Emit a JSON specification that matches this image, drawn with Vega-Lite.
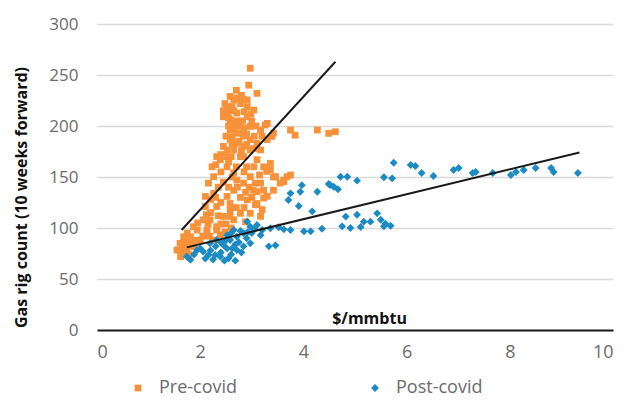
{
  "$schema": "https://vega.github.io/schema/vega-lite/v6.json",
  "width": 516,
  "height": 306,
  "autosize": {"type": "none"},
  "padding": {"left": 97, "top": 24, "right": 15, "bottom": 75},
  "background": "white",
  "config": {
    "view": {"stroke": null},
    "font": "Open Sans"
  },
  "datasets": {
    "pts": [
      {"s":"Pre-covid","x":2.97,"y":256.6},{"s":"Pre-covid","x":2.94,"y":240},{"s":"Pre-covid","x":3.10,"y":232},{"s":"Pre-covid","x":2.58,"y":229},{"s":"Pre-covid","x":2.71,"y":227.5},{"s":"Pre-covid","x":2.91,"y":225.5},{"s":"Pre-covid","x":2.65,"y":225.5},{"s":"Pre-covid","x":2.78,"y":222},{"s":"Pre-covid","x":2.52,"y":219},{"s":"Pre-covid","x":2.91,"y":219},{"s":"Pre-covid","x":3.04,"y":215.7},{"s":"Pre-covid","x":2.52,"y":212.7},{"s":"Pre-covid","x":2.71,"y":212.7},{"s":"Pre-covid","x":2.45,"y":209},{"s":"Pre-covid","x":2.91,"y":209},{"s":"Pre-covid","x":2.58,"y":206},{"s":"Pre-covid","x":2.78,"y":202.6},{"s":"Pre-covid","x":3.30,"y":202.6},{"s":"Pre-covid","x":3.26,"y":201},{"s":"Pre-covid","x":2.65,"y":199.6},{"s":"Pre-covid","x":2.97,"y":199.6},{"s":"Pre-covid","x":2.58,"y":196},{"s":"Pre-covid","x":3.17,"y":196},{"s":"Pre-covid","x":3.75,"y":196},{"s":"Pre-covid","x":4.27,"y":196},{"s":"Pre-covid","x":2.71,"y":193},{"s":"Pre-covid","x":2.78,"y":193},{"s":"Pre-covid","x":3.42,"y":193},{"s":"Pre-covid","x":4.49,"y":192.8},{"s":"Pre-covid","x":4.62,"y":194.4},{"s":"Pre-covid","x":3.84,"y":191},{"s":"Pre-covid","x":2.84,"y":190},{"s":"Pre-covid","x":3.39,"y":189.8},{"s":"Pre-covid","x":2.58,"y":186.6},{"s":"Pre-covid","x":2.97,"y":186.6},{"s":"Pre-covid","x":3.30,"y":186.6},{"s":"Pre-covid","x":2.71,"y":183},{"s":"Pre-covid","x":3.10,"y":183},{"s":"Pre-covid","x":2.84,"y":180},{"s":"Pre-covid","x":2.52,"y":176.5},{"s":"Pre-covid","x":2.65,"y":176.5},{"s":"Pre-covid","x":2.97,"y":176.5},{"s":"Pre-covid","x":3.17,"y":176.5},{"s":"Pre-covid","x":2.39,"y":167},{"s":"Pre-covid","x":2.78,"y":170},{"s":"Pre-covid","x":2.84,"y":170},{"s":"Pre-covid","x":2.32,"y":170},{"s":"Pre-covid","x":3.10,"y":167},{"s":"Pre-covid","x":2.23,"y":160},{"s":"Pre-covid","x":2.52,"y":160},{"s":"Pre-covid","x":3.04,"y":160},{"s":"Pre-covid","x":3.23,"y":160},{"s":"Pre-covid","x":3.36,"y":163.4},{"s":"Pre-covid","x":3.36,"y":157},{"s":"Pre-covid","x":3.29,"y":155.5},{"s":"Pre-covid","x":2.65,"y":154},{"s":"Pre-covid","x":2.26,"y":150.3},{"s":"Pre-covid","x":2.97,"y":150.3},{"s":"Pre-covid","x":3.42,"y":150},{"s":"Pre-covid","x":3.46,"y":150.3},{"s":"Pre-covid","x":3.68,"y":150.3},{"s":"Pre-covid","x":3.75,"y":152},{"s":"Pre-covid","x":2.71,"y":147},{"s":"Pre-covid","x":3.62,"y":147},{"s":"Pre-covid","x":3.62,"y":145.4},{"s":"Pre-covid","x":2.16,"y":144},{"s":"Pre-covid","x":2.84,"y":144},{"s":"Pre-covid","x":3.17,"y":144},{"s":"Pre-covid","x":3.55,"y":144},{"s":"Pre-covid","x":3.07,"y":144},{"s":"Pre-covid","x":2.65,"y":137},{"s":"Pre-covid","x":3.03,"y":137},{"s":"Pre-covid","x":3.23,"y":137},{"s":"Pre-covid","x":3.42,"y":137},{"s":"Pre-covid","x":3.10,"y":135.6},{"s":"Pre-covid","x":2.26,"y":134},{"s":"Pre-covid","x":2.10,"y":131},{"s":"Pre-covid","x":2.52,"y":131},{"s":"Pre-covid","x":3.30,"y":131},{"s":"Pre-covid","x":3.23,"y":129.4},{"s":"Pre-covid","x":2.91,"y":127.5},{"s":"Pre-covid","x":2.58,"y":124},{"s":"Pre-covid","x":3.10,"y":124},{"s":"Pre-covid","x":3.07,"y":122.8},{"s":"Pre-covid","x":2.10,"y":121},{"s":"Pre-covid","x":2.32,"y":121},{"s":"Pre-covid","x":2.58,"y":118},{"s":"Pre-covid","x":2.78,"y":114.4},{"s":"Pre-covid","x":2.97,"y":114.4},{"s":"Pre-covid","x":2.45,"y":111.4},{"s":"Pre-covid","x":3.17,"y":111.4},{"s":"Pre-covid","x":2.58,"y":111.4},{"s":"Pre-covid","x":2.06,"y":108},{"s":"Pre-covid","x":2.65,"y":108},{"s":"Pre-covid","x":2.19,"y":108},{"s":"Pre-covid","x":2.32,"y":101.3},{"s":"Pre-covid","x":1.87,"y":101.3},{"s":"Pre-covid","x":1.94,"y":98},{"s":"Pre-covid","x":2.13,"y":98},{"s":"Pre-covid","x":2.32,"y":98},{"s":"Pre-covid","x":2.13,"y":95},{"s":"Pre-covid","x":2.39,"y":93.4},{"s":"Pre-covid","x":1.81,"y":91.5},{"s":"Pre-covid","x":1.68,"y":91.5},{"s":"Pre-covid","x":2.0,"y":88.2},{"s":"Pre-covid","x":1.68,"y":85},{"s":"Pre-covid","x":1.61,"y":85},{"s":"Pre-covid","x":1.87,"y":81.8},{"s":"Pre-covid","x":1.61,"y":78.4},{"s":"Pre-covid","x":1.74,"y":78.4},{"s":"Pre-covid","x":1.55,"y":78.4},{"s":"Pre-covid","x":1.68,"y":75.2},
      {"s":"Pre-covid","x":2.45,"y":215},{"s":"Pre-covid","x":2.60,"y":215},{"s":"Pre-covid","x":2.85,"y":214},{"s":"Pre-covid","x":2.70,"y":205},{"s":"Pre-covid","x":2.85,"y":198},{"s":"Pre-covid","x":2.50,"y":190},{"s":"Pre-covid","x":2.62,"y":182},{"s":"Pre-covid","x":2.90,"y":192},{"s":"Pre-covid","x":3.00,"y":205},{"s":"Pre-covid","x":2.55,"y":200},{"s":"Pre-covid","x":2.75,"y":185},{"s":"Pre-covid","x":3.05,"y":190},{"s":"Pre-covid","x":2.45,"y":180},{"s":"Pre-covid","x":2.40,"y":172},{"s":"Pre-covid","x":2.55,"y":165},{"s":"Pre-covid","x":2.70,"y":160},{"s":"Pre-covid","x":2.45,"y":145},{"s":"Pre-covid","x":2.40,"y":155},{"s":"Pre-covid","x":2.90,"y":160},{"s":"Pre-covid","x":2.95,"y":140},{"s":"Pre-covid","x":2.78,"y":130},{"s":"Pre-covid","x":2.40,"y":125},{"s":"Pre-covid","x":2.70,"y":120},{"s":"Pre-covid","x":2.85,"y":120},{"s":"Pre-covid","x":2.50,"y":104},{"s":"Pre-covid","x":2.20,"y":115},{"s":"Pre-covid","x":2.05,"y":92},{"s":"Pre-covid","x":1.95,"y":105},{"s":"Pre-covid","x":2.25,"y":88},{"s":"Pre-covid","x":1.80,"y":85},{"s":"Pre-covid","x":2.48,"y":96},{"s":"Pre-covid","x":2.60,"y":100},{"s":"Pre-covid","x":2.88,"y":106},{"s":"Pre-covid","x":3.00,"y":130},{"s":"Pre-covid","x":2.35,"y":140},{"s":"Pre-covid","x":2.20,"y":128},{"s":"Pre-covid","x":2.65,"y":215},{"s":"Pre-covid","x":2.80,"y":230},{"s":"Pre-covid","x":2.70,"y":235},{"s":"Pre-covid","x":2.75,"y":200},{"s":"Pre-covid","x":2.60,"y":170},{"s":"Pre-covid","x":2.90,"y":182},
      {"s":"Pre-covid","x":2.48,"y":222},{"s":"Pre-covid","x":2.62,"y":219},{"s":"Pre-covid","x":2.84,"y":226},{"s":"Pre-covid","x":2.98,"y":212},{"s":"Pre-covid","x":2.55,"y":208},{"s":"Pre-covid","x":2.66,"y":196},{"s":"Pre-covid","x":2.82,"y":205},{"s":"Pre-covid","x":3.08,"y":200},{"s":"Pre-covid","x":3.20,"y":190},{"s":"Pre-covid","x":2.62,"y":189},{"s":"Pre-covid","x":2.80,"y":176},{"s":"Pre-covid","x":3.04,"y":178},{"s":"Pre-covid","x":2.50,"y":170},{"s":"Pre-covid","x":2.30,"y":162},{"s":"Pre-covid","x":2.62,"y":150},{"s":"Pre-covid","x":2.85,"y":155},{"s":"Pre-covid","x":3.15,"y":152},{"s":"Pre-covid","x":2.55,"y":140},{"s":"Pre-covid","x":2.88,"y":135},{"s":"Pre-covid","x":3.20,"y":118},{"s":"Pre-covid","x":2.35,"y":112},{"s":"Pre-covid","x":2.12,"y":113},{"s":"Pre-covid","x":2.40,"y":104},{"s":"Pre-covid","x":1.75,"y":95},{"s":"Pre-covid","x":1.92,"y":88},{"s":"Pre-covid","x":2.18,"y":92},{"s":"Pre-covid","x":1.62,"y":72},{"s":"Pre-covid","x":1.78,"y":74},{"s":"Pre-covid","x":1.70,"y":82},{"s":"Pre-covid","x":2.15,"y":104},{"s":"Pre-covid","x":2.72,"y":140},{"s":"Pre-covid","x":2.30,"y":130},
      {"s":"Post-covid","x":1.74,"y":72},{"s":"Post-covid","x":1.81,"y":68.8},{"s":"Post-covid","x":1.94,"y":78.4},{"s":"Post-covid","x":2.06,"y":76.8},{"s":"Post-covid","x":2.16,"y":73.5},{"s":"Post-covid","x":2.29,"y":73.5},{"s":"Post-covid","x":2.39,"y":72},{"s":"Post-covid","x":2.55,"y":70.3},{"s":"Post-covid","x":2.68,"y":68},{"s":"Post-covid","x":2.45,"y":83.3},{"s":"Post-covid","x":2.58,"y":88.2},{"s":"Post-covid","x":2.71,"y":91.5},{"s":"Post-covid","x":2.84,"y":94.8},{"s":"Post-covid","x":2.65,"y":98},{"s":"Post-covid","x":2.97,"y":101.3},{"s":"Post-covid","x":3.10,"y":103},{"s":"Post-covid","x":2.84,"y":82},{"s":"Post-covid","x":2.97,"y":85},{"s":"Post-covid","x":2.71,"y":78.4},{"s":"Post-covid","x":2.52,"y":80},{"s":"Post-covid","x":3.33,"y":82},{"s":"Post-covid","x":3.17,"y":93},{"s":"Post-covid","x":3.52,"y":100.7},{"s":"Post-covid","x":3.36,"y":99.7},{"s":"Post-covid","x":2.91,"y":106.2},{"s":"Post-covid","x":2.52,"y":93},{"s":"Post-covid","x":2.32,"y":88.2},{"s":"Post-covid","x":2.19,"y":85},{"s":"Post-covid","x":3.62,"y":98.7},{"s":"Post-covid","x":3.75,"y":98},{"s":"Post-covid","x":4.01,"y":96.7},{"s":"Post-covid","x":4.14,"y":96.7},{"s":"Post-covid","x":4.36,"y":99.3},{"s":"Post-covid","x":4.75,"y":101.6},{"s":"Post-covid","x":4.91,"y":100},{"s":"Post-covid","x":5.11,"y":101},{"s":"Post-covid","x":5.17,"y":106.2},{"s":"Post-covid","x":5.30,"y":106.2},{"s":"Post-covid","x":5.50,"y":108.1},{"s":"Post-covid","x":5.59,"y":104.2},{"s":"Post-covid","x":5.56,"y":101.6},{"s":"Post-covid","x":5.69,"y":102.2},{"s":"Post-covid","x":5.43,"y":114.4},{"s":"Post-covid","x":5.04,"y":113},{"s":"Post-covid","x":4.82,"y":111.2},{"s":"Post-covid","x":4.17,"y":116.3},{"s":"Post-covid","x":3.91,"y":121.6},{"s":"Post-covid","x":3.71,"y":127.5},{"s":"Post-covid","x":3.75,"y":134},{"s":"Post-covid","x":3.94,"y":135.6},{"s":"Post-covid","x":3.97,"y":142},{"s":"Post-covid","x":4.27,"y":135.6},{"s":"Post-covid","x":4.49,"y":143.1},{"s":"Post-covid","x":4.52,"y":142.2},{"s":"Post-covid","x":4.59,"y":140.5},{"s":"Post-covid","x":4.67,"y":138},{"s":"Post-covid","x":4.72,"y":150.3},{"s":"Post-covid","x":4.85,"y":150.3},{"s":"Post-covid","x":5.04,"y":146.4},{"s":"Post-covid","x":5.56,"y":149.7},{"s":"Post-covid","x":5.72,"y":148.7},{"s":"Post-covid","x":5.75,"y":164},{"s":"Post-covid","x":6.08,"y":161.8},{"s":"Post-covid","x":6.17,"y":160.8},{"s":"Post-covid","x":6.29,"y":153.9},{"s":"Post-covid","x":6.52,"y":151.0},{"s":"Post-covid","x":6.91,"y":156.9},{"s":"Post-covid","x":7.01,"y":158.8},{"s":"Post-covid","x":7.28,"y":153.9},{"s":"Post-covid","x":7.34,"y":154.9},{"s":"Post-covid","x":7.67,"y":153.9},{"s":"Post-covid","x":8.02,"y":152.0},{"s":"Post-covid","x":8.12,"y":154.9},{"s":"Post-covid","x":8.27,"y":156.9},{"s":"Post-covid","x":8.50,"y":158.8},{"s":"Post-covid","x":8.80,"y":158.8},{"s":"Post-covid","x":8.85,"y":154.9},{"s":"Post-covid","x":9.32,"y":153.9},
      {"s":"Post-covid","x":2.0,"y":80},{"s":"Post-covid","x":2.2,"y":78},{"s":"Post-covid","x":2.4,"y":76},{"s":"Post-covid","x":2.6,"y":74},{"s":"Post-covid","x":2.8,"y":76},{"s":"Post-covid","x":2.9,"y":90},{"s":"Post-covid","x":3.0,"y":95},{"s":"Post-covid","x":2.75,"y":86},{"s":"Post-covid","x":2.5,"y":88},{"s":"Post-covid","x":2.3,"y":82},{"s":"Post-covid","x":3.2,"y":98},{"s":"Post-covid","x":2.6,"y":95},{"s":"Post-covid","x":3.46,"y":83},
      {"s":"Post-covid","x":1.88,"y":74},{"s":"Post-covid","x":2.10,"y":70},{"s":"Post-covid","x":2.25,"y":69},{"s":"Post-covid","x":2.47,"y":68},{"s":"Post-covid","x":2.62,"y":80},{"s":"Post-covid","x":2.78,"y":97},{"s":"Post-covid","x":2.92,"y":96},{"s":"Post-covid","x":3.05,"y":99},{"s":"Post-covid","x":2.68,"y":84},{"s":"Post-covid","x":2.40,"y":86}
    ],
    "lines": [
      {"s":"Pre-covid","x":1.64,"y":98},{"s":"Pre-covid","x":4.62,"y":263},
      {"s":"Post-covid","x":1.74,"y":81},{"s":"Post-covid","x":9.35,"y":174}
    ]
  },
  "layer": [
    {
      "data": {"name": "pts"},
      "mark": {"type": "point", "filled": true, "opacity": 1},
      "encoding": {
        "x": {
          "field": "x", "type": "quantitative",
          "scale": {"domain": [0, 10], "nice": false},
          "axis": {
            "values": [0, 2, 4, 6, 8, 10], "grid": false, "ticks": false,
            "domainColor": "#1a1a1a", "domainWidth": 2,
            "labelColor": "#6b6b6b", "labelFontSize": 18, "labelPadding": 13,
            "title": "$/mmbtu", "titleFontSize": 16, "titleFontWeight": "bold",
            "titleColor": "#111111", "titleX": 272, "titleY": -4, "titleBaseline": "bottom"
          }
        },
        "y": {
          "field": "y", "type": "quantitative",
          "scale": {"domain": [0, 300], "nice": false},
          "axis": {
            "values": [0, 50, 100, 150, 200, 250, 300], "domain": false, "ticks": false,
            "gridColor": "#d9d9d9", "gridWidth": 1.5,
            "labelColor": "#6b6b6b", "labelFontSize": 17, "labelPadding": 19,
            "title": "Gas rig count (10 weeks forward)", "titleFontSize": 16,
            "titleFontWeight": "bold", "titleColor": "#111111",
            "titleX": -76, "titleY": 173, "titleAngle": -90, "titleAlign": "center", "titleBaseline": "middle"
          }
        },
        "color": {
          "field": "s", "type": "nominal",
          "scale": {"domain": ["Pre-covid", "Post-covid"], "range": ["#F7923A", "#1D8BC3"]},
          "legend": {
            "title": null, "orient": "none", "direction": "horizontal",
            "legendX": 32, "legendY": 355, "columnPadding": 128,
            "labelFontSize": 18, "labelColor": "#6b6b6b", "symbolSize": 30, "labelOffset": 12
          }
        },
        "shape": {
          "field": "s", "type": "nominal",
          "scale": {"domain": ["Pre-covid", "Post-covid"], "range": ["square", "diamond"]},
          "legend": null
        },
        "size": {
          "field": "s", "type": "nominal",
          "scale": {"domain": ["Pre-covid", "Post-covid"], "range": [46, 62]},
          "legend": null
        }
      }
    },
    {
      "data": {"name": "lines"},
      "mark": {"type": "line", "color": "#1a1a1a", "strokeWidth": 2},
      "encoding": {
        "x": {"field": "x", "type": "quantitative"},
        "y": {"field": "y", "type": "quantitative"},
        "detail": {"field": "s", "type": "nominal"}
      }
    }
  ]
}
